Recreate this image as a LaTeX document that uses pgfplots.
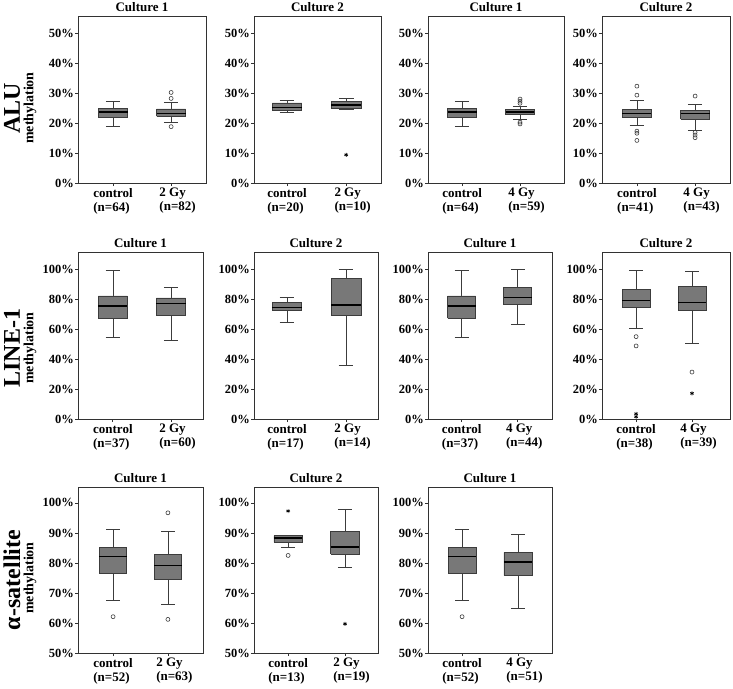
\documentclass[border=0pt]{standalone}
\usepackage{fontspec}
\setmainfont{Liberation Serif}
\usepackage{pgfplots}
\pgfplotsset{compat=1.18}
\definecolor{boxfill}{RGB}{120,120,120}
\definecolor{boxedge}{RGB}{60,60,60}
\definecolor{axcol}{RGB}{50,50,50}
\pgfplotsset{
  panel/.style={
    scale only axis, anchor=north west,
    tick align=outside, tick pos=left, major tick length=3pt,
    axis line style={draw=axcol, line width=0.8pt},
    tick style={draw=axcol, line width=0.8pt},
    xtick={1,2},
    title style={font=\fontsize{13}{15}\selectfont\bfseries, inner sep=2pt, yshift=-4pt},
    yticklabel style={font=\fontsize{12.5}{14}\selectfont\bfseries, inner sep=1pt},
    xticklabel style={font=\fontsize{13}{14}\selectfont\bfseries, align=left, inner sep=2pt},
    clip=false,
  },
  rowA/.style={panel, height=167pt, ymin=0, ymax=55.7, ytick={0,10,20,30,40,50},
    yticklabels={0\%,10\%,20\%,30\%,40\%,50\%}},
  rowB/.style={panel, height=167pt, ymin=0, ymax=111.3, ytick={0,20,40,60,80,100},
    yticklabels={0\%,20\%,40\%,60\%,80\%,100\%}},
  rowC/.style={panel, height=166pt, ymin=50, ymax=105.3, ytick={50,60,70,80,90,100},
    yticklabels={50\%,60\%,70\%,80\%,90\%,100\%}},
  whisk/.style={draw=boxedge, line width=0.75pt, mark=none},
  boxst/.style={draw=boxedge, fill=boxfill, line width=0.75pt, mark=none},
  medst/.style={draw=black, line width=1.6pt, mark=none},
  circ/.style={only marks, mark=o, mark size=2pt, draw=boxedge, mark options={line width=0.6pt}},
  star/.style={only marks, mark=asterisk, mark size=2pt, draw=black, mark options={line width=0.7pt}},
}
% #1 position, #2 lower whisker, #3 lower quartile, #4 median, #5 upper quartile, #6 upper whisker
\newcommand{\bx}[6]{%
  \pgfmathsetmacro{\bxL}{#1-0.25}\pgfmathsetmacro{\bxR}{#1+0.25}%
  \pgfmathsetmacro{\bxcL}{#1-0.125}\pgfmathsetmacro{\bxcR}{#1+0.125}%
  \addplot[whisk] coordinates {(#1,#2) (#1,#3)};
  \addplot[whisk] coordinates {(#1,#5) (#1,#6)};
  \addplot[whisk] coordinates {(\bxcL,#2) (\bxcR,#2)};
  \addplot[whisk] coordinates {(\bxcL,#6) (\bxcR,#6)};
  \addplot[boxst] coordinates {(\bxL,#3) (\bxR,#3) (\bxR,#5) (\bxL,#5) (\bxL,#3)};
  \addplot[medst] coordinates {(\bxL,#4) (\bxR,#4)};
}
\newcommand{\ctl}[1]{control\\(n=#1)}
\newcommand{\gy}[2]{\hspace*{13pt}#1 Gy\\\hspace*{13pt}(n=#2)}
\begin{document}
\begin{tikzpicture}
\useasboundingbox (0,0) rectangle (733pt,-688pt);
% ---------------- Row 1: ALU ----------------
\begin{axis}[rowA, at={(78pt,-16pt)}, width=128pt, xmin=0.397, xmax=2.60, title={Culture 1},
  xticklabels={{\ctl{64}},{\gy{2}{82}}}]
\bx{1}{18.9}{21.8}{23.7}{24.9}{27.1}
\bx{2}{20.3}{22.2}{23.2}{24.7}{26.9}
\addplot[circ] coordinates {(2,30.2) (2,28.2) (2,18.8)};
\end{axis}
\begin{axis}[rowA, at={(254pt,-16pt)}, width=127pt, xmin=0.44, xmax=2.59, title={Culture 2},
  xticklabels={{\ctl{20}},{\gy{2}{10}}}]
\bx{1}{23.4}{24.3}{25.2}{26.7}{27.6}
\bx{2}{24.4}{24.9}{26.1}{27.1}{28.2}
\addplot[star] coordinates {(2,9.4)};
\end{axis}
\begin{axis}[rowA, at={(428pt,-16pt)}, width=136pt, xmin=0.41, xmax=2.76, title={Culture 1},
  xticklabels={{\ctl{64}},{\gy{4}{59}}}]
\bx{1}{18.9}{21.8}{23.7}{24.9}{27.1}
\bx{2}{21.2}{22.8}{23.6}{24.4}{25.6}
\addplot[circ] coordinates {(2,28.0) (2,27.3) (2,26.6) (2,20.3) (2,19.7)};
\end{axis}
\begin{axis}[rowA, at={(602pt,-16pt)}, width=128pt, xmin=0.40, xmax=2.60, title={Culture 2},
  xticklabels={{\ctl{41}},{\gy{4}{43}}}]
\bx{1}{19.2}{21.8}{23.2}{24.6}{27.7}
\bx{2}{17.7}{21.3}{23.2}{24.2}{26.2}
\addplot[circ] coordinates {(1,32.3) (1,29.3) (1,17.3) (1,16.6) (1,14.2)
  (2,29.0) (2,16.9) (2,16.0) (2,15.1)};
\end{axis}
% ---------------- Row 2: LINE-1 ----------------
\begin{axis}[rowB, at={(78pt,-252pt)}, width=125pt, xmin=0.40, xmax=2.55, title={Culture 1},
  xticklabels={{\ctl{37}},{\gy{2}{60}}}]
\bx{1}{54.2}{67.3}{75.3}{82.0}{98.9}
\bx{2}{52.4}{68.9}{77.1}{80.7}{87.8}
\end{axis}
\begin{axis}[rowB, at={(254pt,-252pt)}, width=124pt, xmin=0.44, xmax=2.54, title={Culture 2},
  xticklabels={{\ctl{17}},{\gy{2}{14}}}]
\bx{1}{64.2}{72.4}{74.4}{77.8}{81.3}
\bx{2}{36.0}{69.1}{75.8}{93.6}{99.8}
\end{axis}
\begin{axis}[rowB, at={(428pt,-252pt)}, width=124pt, xmin=0.40, xmax=2.61, title={Culture 1},
  xticklabels={{\ctl{37}},{\gy{4}{44}}}]
\bx{1}{54.2}{67.3}{75.3}{82.0}{98.9}
\bx{2}{62.9}{76.2}{81.1}{87.8}{99.8}
\end{axis}
\begin{axis}[rowB, at={(602pt,-252pt)}, width=128pt, xmin=0.39, xmax=2.68, title={Culture 2},
  xticklabels={{\ctl{38}},{\gy{4}{39}}}]
\bx{1}{60.2}{74.4}{79.1}{86.4}{98.9}
\bx{2}{50.2}{72.4}{77.6}{88.2}{98.4}
\addplot[circ] coordinates {(1,54.9) (1,48.7) (2,31.3)};
\addplot[star] coordinates {(1,3.5) (1,1.5) (2,17.1)};
\end{axis}
% ---------------- Row 3: alpha-satellite ----------------
\begin{axis}[rowC, at={(78pt,-487pt)}, width=125pt, xmin=0.36, xmax=2.64, title={Culture 1},
  xticklabels={{\ctl{52}},{\gy{2}{63}}}]
\bx{1}{67.6}{76.4}{82.2}{85.3}{91.3}
\bx{2}{66.3}{74.4}{79.2}{82.9}{90.5}
\addplot[circ] coordinates {(1,62.1) (2,96.7) (2,61.2)};
\end{axis}
\begin{axis}[rowC, at={(254pt,-487pt)}, width=124pt, xmin=0.40, xmax=2.58, title={Culture 2},
  xticklabels={{\ctl{13}},{\gy{2}{19}}}]
\bx{1}{85.3}{87.0}{88.4}{89.1}{89.2}
\bx{2}{78.5}{83.0}{85.4}{90.5}{97.7}
\addplot[circ] coordinates {(1,82.5)};
\addplot[star] coordinates {(1,97.3) (2,59.7)};
\end{axis}
\begin{axis}[rowC, at={(428pt,-487pt)}, width=124pt, xmin=0.39, xmax=2.61, title={Culture 1},
  xticklabels={{\ctl{52}},{\gy{4}{51}}}]
\bx{1}{67.6}{76.4}{82.2}{85.3}{91.3}
\bx{2}{64.8}{75.9}{80.3}{83.5}{89.4}
\addplot[circ] coordinates {(1,62.1)};
\end{axis}
% ---------------- Row labels ----------------
\node[rotate=90, font=\fontsize{24}{24}\selectfont\bfseries] at (12pt,-108pt) {ALU};
\node[rotate=90, font=\fontsize{14}{14}\selectfont\bfseries] at (30pt,-108pt) {methylation};
\node[rotate=90, font=\fontsize{24}{24}\selectfont\bfseries] at (12pt,-348pt) {LINE-1};
\node[rotate=90, font=\fontsize{14}{14}\selectfont\bfseries] at (30pt,-348pt) {methylation};
\node[rotate=90, font=\fontsize{24}{24}\selectfont\bfseries] at (12pt,-580pt) {α-satellite};
\node[rotate=90, font=\fontsize{14}{14}\selectfont\bfseries] at (30pt,-578pt) {methylation};
\end{tikzpicture}
\end{document}
